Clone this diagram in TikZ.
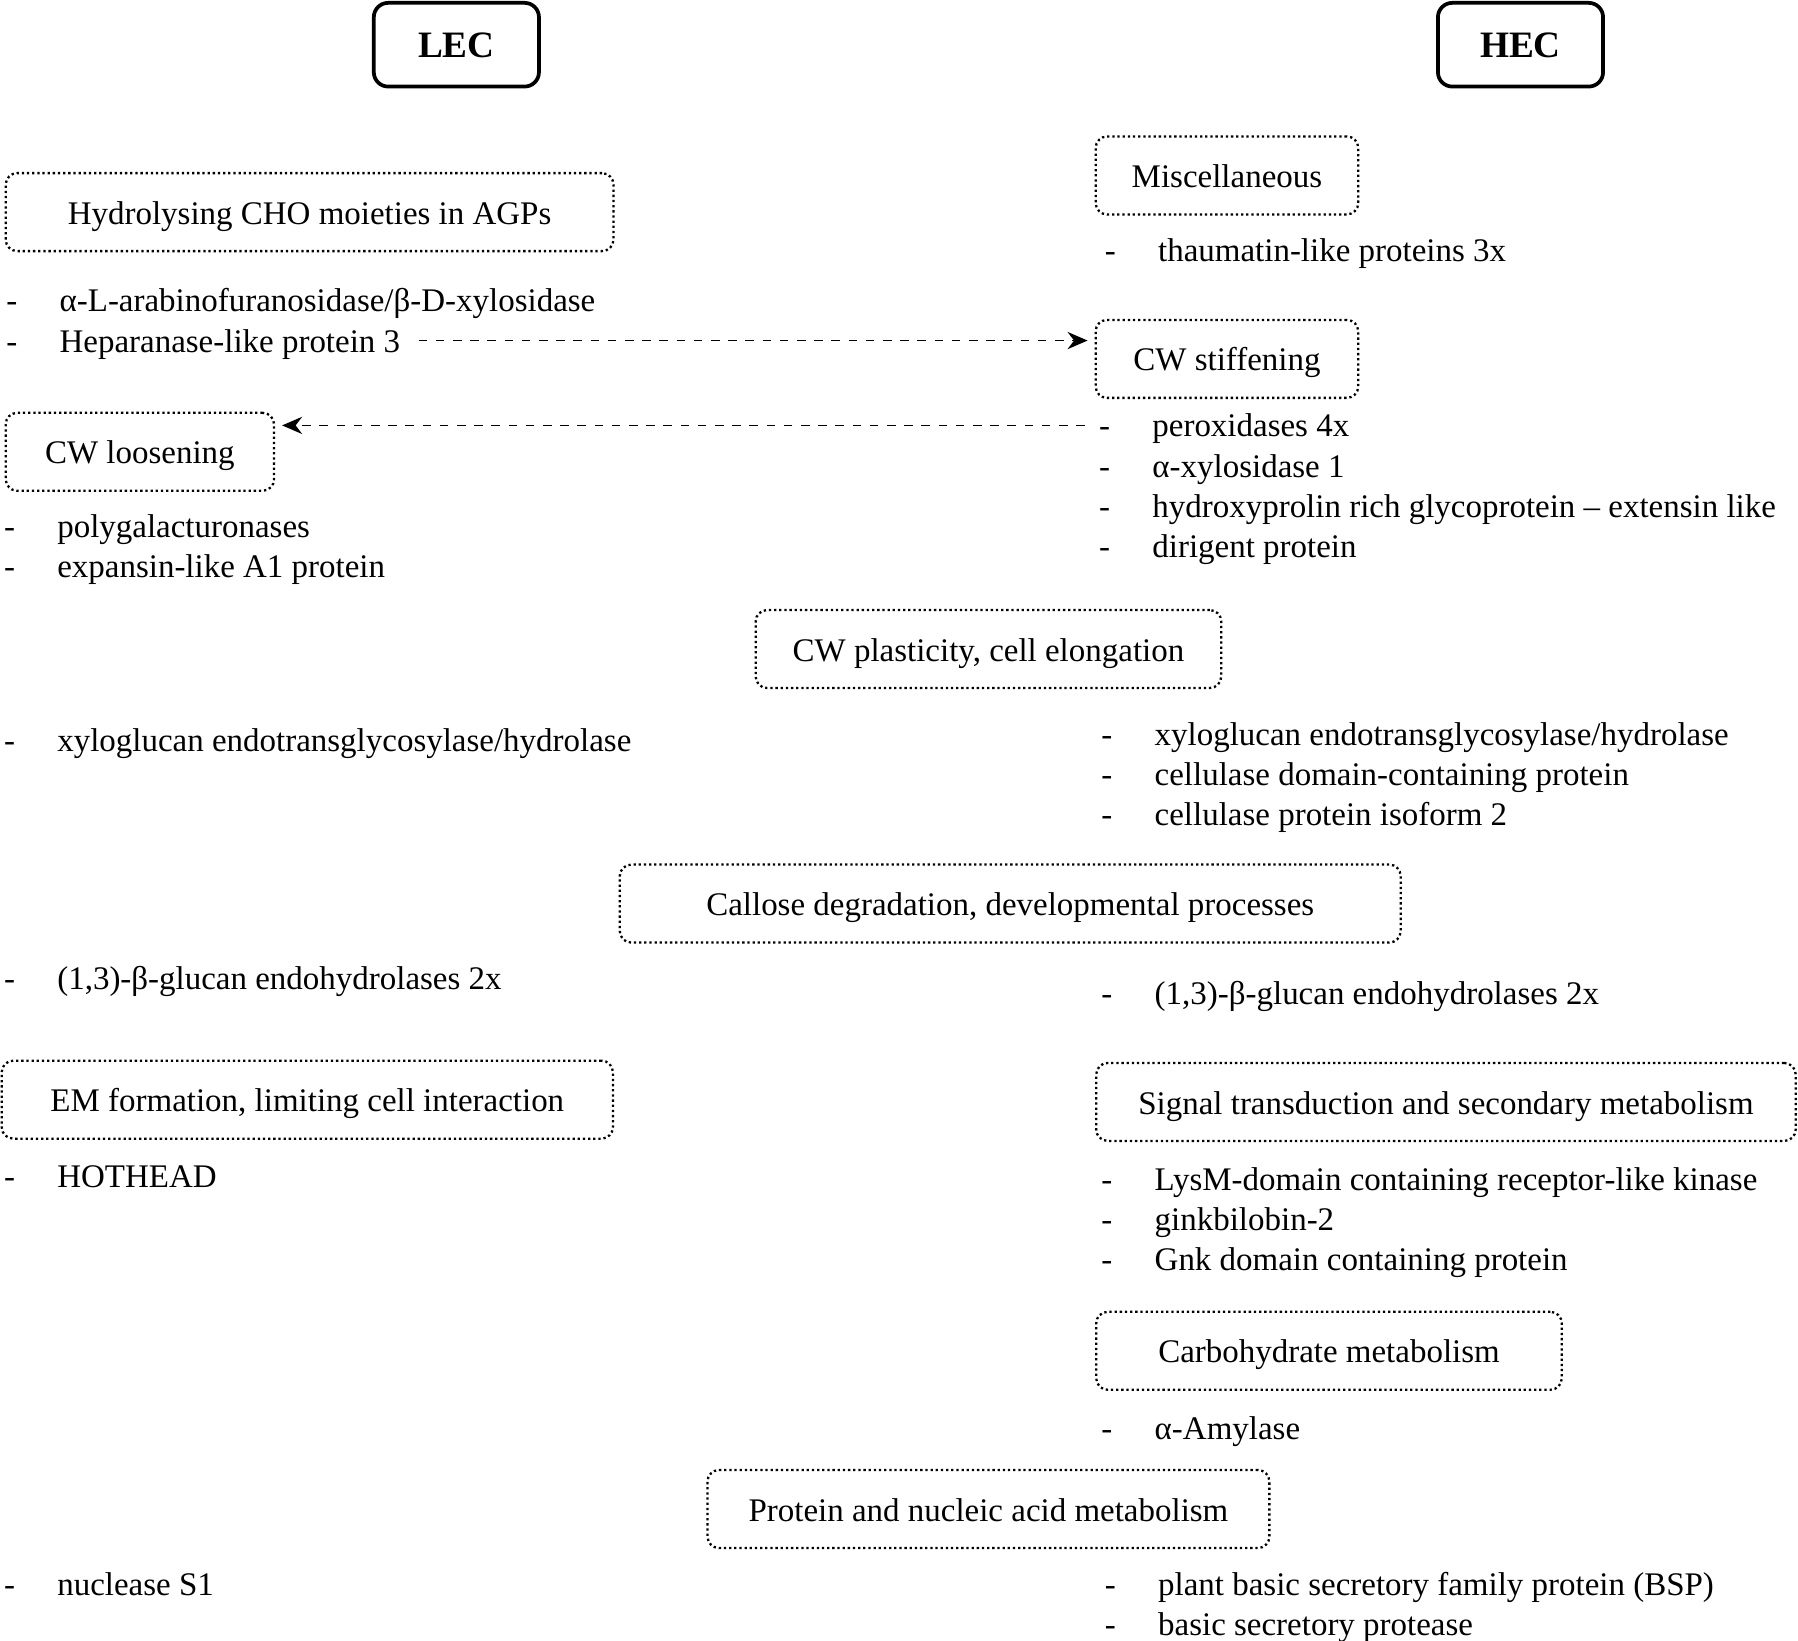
\documentclass[tikz,border=0pt]{standalone}
\usepackage{fontspec}
\setmainfont{Liberation Serif}
\usetikzlibrary{arrows.meta}
\newcommand{\bul}{\makebox[18.6pt][l]{-}}
\tikzset{
    cell/.style={
           rectangle,
           rounded corners=5pt,
           draw=black, line width=1.3pt,
           minimum width=57.6pt,
           minimum height=29.2pt,
           text height=9pt, text depth=0pt,
           font=\fontsize{13}{15}\selectfont\bfseries
           },
    group/.style={
           rectangle,
           rounded corners=4pt,
           draw=black, line width=0.8pt, densely dotted,
           minimum height=27.2pt,
           text height=9.6pt, text depth=1.2pt,
           text centered
           },
    list/.style={
           anchor=base west,
           inner sep=0pt,
           yshift=-0.8pt
           },
    link/.style={
           -{Stealth[length=7pt,width=6pt]},
           dashed, line width=0.6pt
           },
}
\begin{document}
\begin{tikzpicture}[x=0.4pt,y=-0.4pt,font=\fontsize{11.5}{14}\selectfont]
             \useasboundingbox (0,0) rectangle (1568,1431);

             % column heads
             \node[cell] (LEC) at (398,39) {LEC};
             \node[cell] (HEC) at (1326,39) {HEC};

             % category boxes
             \node[group, minimum width=212pt] (AGP) at (270,185) {Hydrolysing CHO moieties in AGPs};
             \node[group, minimum width=91.6pt] (MISC) at (1070,153) {Miscellaneous};
             \node[group, minimum width=91.6pt] (STIFF) at (1070,313) {CW stiffening};
             \node[group, minimum width=93.6pt] (LOOSE) at (122,394) {CW loosening};
             \node[group, minimum width=162.4pt] (PLAST) at (862,566) {CW plasticity, cell elongation};
             \node[group, minimum width=272.4pt] (CALL) at (881,788) {Callose degradation, developmental processes};
             \node[group, minimum width=213.2pt] (EM) at (268,959) {EM formation, limiting cell interaction};
             \node[group, minimum width=244pt] (SIGNAL) at (1261,961) {Signal transduction and secondary metabolism};
             \node[group, minimum width=162.4pt] (CARB) at (1159,1178) {Carbohydrate metabolism};
             \node[group, minimum width=196pt] (PROT) at (862,1316) {Protein and nucleic acid metabolism};

             % LEC lists
             \node[list] (AGPlist) at (5,270)
             {\begin{tabular}[t]{@{}l@{}}
                \bul α-L-arabinofuranosidase/β-D-xylosidase\\
                \bul Heparanase-like protein 3
             \end{tabular}};
             \node[list] (LOOSElist) at (3,467)
             {\begin{tabular}[t]{@{}l@{}}
                \bul polygalacturonases\\
                \bul expansin-like A1 protein
             \end{tabular}};
             \node[list] (PLASTlistL) at (3,653) {\bul xyloglucan endotransglycosylase/hydrolase};
             \node[list] (CALLlistL) at (3,861) {\bul (1,3)-β-glucan endohydrolases 2x};
             \node[list] (EMlist) at (3,1034) {\bul HOTHEAD};
             \node[list] (PROTlistL) at (3,1389) {\bul nuclease S1};

             % HEC lists
             \node[list] (MISClist) at (963,226) {\bul thaumatin-like proteins 3x};
             \node[list] (STIFFlist) at (958,379)
             {\begin{tabular}[t]{@{}l@{}}
                \bul peroxidases 4x\\
                \bul α-xylosidase 1\\
                \bul hydroxyprolin rich glycoprotein – extensin like\\
                \bul dirigent protein
             \end{tabular}};
             \node[list] (PLASTlistR) at (960,648)
             {\begin{tabular}[t]{@{}l@{}}
                \bul xyloglucan endotransglycosylase/hydrolase\\
                \bul cellulase domain-containing protein\\
                \bul cellulase protein isoform 2
             \end{tabular}};
             \node[list] (CALLlistR) at (960,874) {\bul (1,3)-β-glucan endohydrolases 2x};
             \node[list] (SIGNALlist) at (960,1036)
             {\begin{tabular}[t]{@{}l@{}}
                \bul LysM-domain containing receptor-like kinase\\
                \bul ginkbilobin-2\\
                \bul Gnk domain containing protein
             \end{tabular}};
             \node[list] (CARBlist) at (960,1253) {\bul α-Amylase};
             \node[list] (PROTlistR) at (963,1389)
             {\begin{tabular}[t]{@{}l@{}}
                \bul plant basic secretory family protein (BSP)\\
                \bul basic secretory protease
             \end{tabular}};

             % links between the columns
             \coordinate (HEPend) at (365,297);
             \coordinate (PEROXdash) at (946,371);
             \draw[link, shorten >=2.4pt] (HEPend) -- (STIFF.west |- HEPend);
             \draw[link, shorten >=2.4pt] (PEROXdash) -- (LOOSE.east |- PEROXdash);

\end{tikzpicture}
\end{document}
